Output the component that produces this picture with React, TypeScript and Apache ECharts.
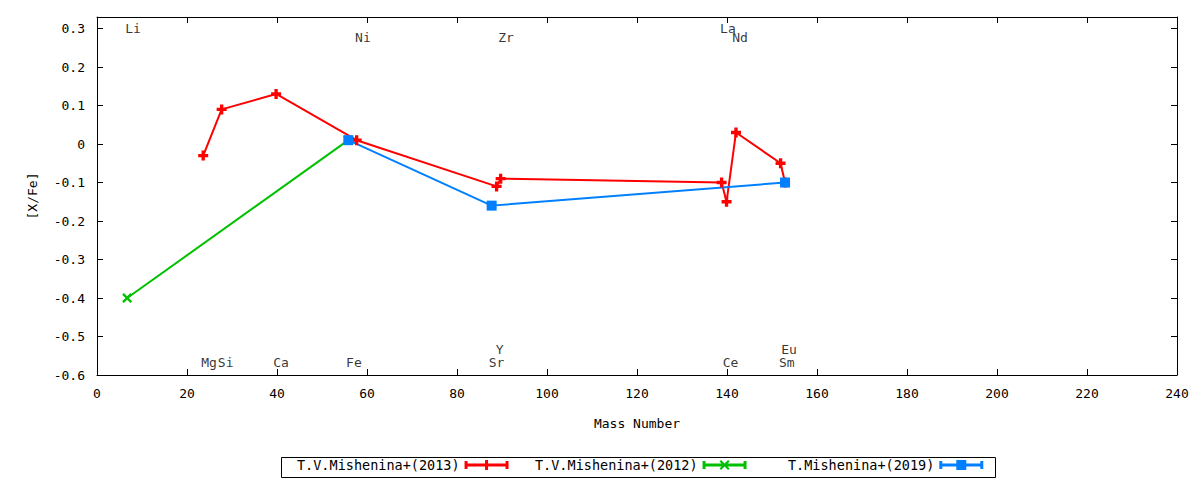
import React, { useEffect, useRef } from "react";
import * as echarts from "echarts";

const massRed = [23.6, 27.7, 39.8, 57.7, 88.8, 89.7, 138.8, 139.9, 142.0, 151.9, 152.9];
const xfeRed = [-0.03, 0.09, 0.13, 0.01, -0.11, -0.09, -0.1, -0.15, 0.03, -0.05, -0.1];
const massGreen = [6.7, 55.85];
const xfeGreen = [-0.4, 0.01];
const massBlue = [55.85, 87.7, 152.9];
const xfeBlue = [0.01, -0.16, -0.1];

const seriesNames = ["T.V.Mishenina+(2013)", "T.V.Mishenina+(2012)", "T.Mishenina+(2019)"];

const elementNames = ["Li", "Ni", "Zr", "La", "Nd", "Mg", "Si", "Ca", "Fe", "Sr", "Y", "Ce", "Sm", "Eu"];
const elementX = [8.0, 59.1, 90.9, 140.2, 142.9, 24.9, 28.6, 40.9, 57.1, 88.8, 89.5, 140.8, 153.3, 153.8];
const elementY = [0.301, 0.276, 0.276, 0.301, 0.276, -0.567, -0.567, -0.567, -0.567, -0.567, -0.533, -0.567, -0.567, -0.533];

const FONT = "DejaVu Sans Mono";

const plusPath = "path://M3 0H6V3H9V6H6V9H3V6H0V3H3Z";
const xPath = "path://M0 1.5L1.5 0L4.5 3L7.5 0L9 1.5L6 4.5L9 7.5L7.5 9L4.5 6L1.5 9L0 7.5L3 4.5Z";

const barBase = "M0 1H3V9H0Z M41 1H44V9H41Z M0 3.5H44V6.5H0Z";
const iconRed = "path://" + barBase + " M20.5 0H23.5V10H20.5Z M17 3.5H27V6.5H17Z";
const iconGreen =
  "path://" + barBase + " M17 1.5L18.5 0L22 3.5L25.5 0L27 1.5L23.5 5L27 8.5L25.5 10L22 6.5L18.5 10L17 8.5L20.5 5Z";
const iconBlue = "path://" + barBase + " M17 0H27V10H17Z";

function pairs(xs: number[], ys: number[]) {
  return xs.map((x, i) => [x, ys[i]]);
}

export default function App() {
  const ref = useRef<HTMLDivElement>(null);
  useEffect(() => {
    if (!ref.current) return;
    const chart = echarts.init(ref.current, null, { renderer: "svg" });
    const axisCommon = {
      axisLine: { show: true, onZero: false, lineStyle: { color: "#000", width: 1 } },
      axisTick: { show: true, inside: true, length: 6, lineStyle: { color: "#000" } },
      splitLine: { show: false },
    };
    const legendBase = (name: string, icon: string, left: number) => ({
      show: true,
      left,
      top: 458,
      orient: "horizontal",
      align: "right",
      padding: 0,
      itemGap: 0,
      itemWidth: 44,
      itemHeight: 10,
      selectedMode: false,
      textStyle: { fontFamily: FONT, fontSize: 13.5, color: "#000" },
      data: [{ name, icon }],
    });
    chart.setOption({
      animation: false,
      backgroundColor: "#fff",
      grid: { left: 97, right: 23, top: 17, bottom: 105 },
      xAxis: [
        {
          type: "value",
          min: 0,
          max: 240,
          interval: 20,
          position: "bottom",
          name: "Mass Number",
          nameLocation: "middle",
          nameGap: 42,
          nameTextStyle: { fontFamily: FONT, fontSize: 13, color: "#000" },
          axisLabel: { fontFamily: FONT, fontSize: 13, color: "#000", margin: 12 },
          ...axisCommon,
        },
        {
          type: "value",
          min: 0,
          max: 240,
          interval: 20,
          position: "top",
          axisLabel: { show: false },
          ...axisCommon,
        },
      ],
      yAxis: [
        {
          type: "value",
          min: -0.6,
          max: 0.33,
          interval: 0.1,
          position: "left",
          name: "[X/Fe]",
          nameLocation: "middle",
          nameGap: 58,
          nameTextStyle: { fontFamily: FONT, fontSize: 13, color: "#000" },
          axisLabel: {
            fontFamily: FONT,
            fontSize: 13,
            color: "#000",
            margin: 12,
            showMaxLabel: false,
            formatter: (v: number) => String(Math.round(v * 10) / 10),
          },
          ...axisCommon,
        },
        {
          type: "value",
          min: -0.6,
          max: 0.33,
          interval: 0.1,
          position: "right",
          axisLabel: { show: false },
          ...axisCommon,
        },
      ],
      legend: [
        legendBase(seriesNames[0], iconRed, 297),
        legendBase(seriesNames[1], iconGreen, 535),
        legendBase(seriesNames[2], iconBlue, 788),
      ],
      graphic: [
        {
          type: "rect",
          left: 279,
          top: 455,
          shape: { width: 714, height: 20 },
          style: { fill: "none", stroke: "#000", lineWidth: 1 },
          silent: true,
        },
      ],
      series: [
        {
          name: seriesNames[0],
          type: "line",
          data: pairs(massRed, xfeRed),
          symbol: plusPath,
          symbolSize: 10,
          showSymbol: true,
          itemStyle: { color: "#ff0000" },
          lineStyle: { color: "#ff0000", width: 2 },
        },
        {
          name: seriesNames[1],
          type: "line",
          data: pairs(massGreen, xfeGreen),
          symbol: xPath,
          symbolSize: 10,
          showSymbol: true,
          itemStyle: { color: "#00c000" },
          lineStyle: { color: "#00c000", width: 2 },
        },
        {
          name: seriesNames[2],
          type: "line",
          data: pairs(massBlue, xfeBlue),
          symbol: "rect",
          symbolSize: 10,
          showSymbol: true,
          itemStyle: { color: "#0080ff" },
          lineStyle: { color: "#0080ff", width: 2 },
        },
        {
          name: "elements",
          type: "scatter",
          silent: true,
          symbolSize: 1,
          itemStyle: { color: "rgba(0,0,0,0)" },
          data: elementNames.map((n, i) => ({ name: n, value: [elementX[i], elementY[i]] })),
          label: {
            show: true,
            position: "inside",
            formatter: (p: any) => p.name,
            fontFamily: FONT,
            fontSize: 13,
            color: "#000",
            textBorderWidth: 0,
          },
          labelLayout: { hideOverlap: false },
          z: 5,
        },
      ],
    });
    return () => chart.dispose();
  }, []);
  return (
    <div
      ref={ref}
      style={{ position: "fixed", left: 0, top: 0, width: 1200, height: 480, background: "#fff" }}
    />
  );
}
